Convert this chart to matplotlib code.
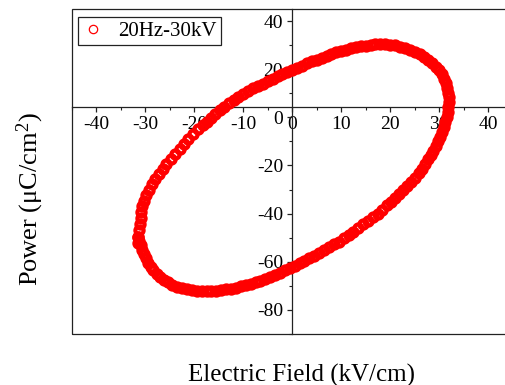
import matplotlib
matplotlib.use("Agg")
import matplotlib.pyplot as plt
from matplotlib.lines import Line2D
from matplotlib.patches import Rectangle
from matplotlib.ticker import MultipleLocator

plt.rcParams['font.family'] = ['Liberation Serif', 'DejaVu Serif']
plt.rcParams['mathtext.fontset'] = 'custom'
plt.rcParams['mathtext.rm'] = 'Liberation Serif'
plt.rcParams['mathtext.it'] = 'Liberation Serif:italic'
plt.rcParams['axes.unicode_minus'] = False

# P-E hysteresis loop, 20 Hz at 30 kV (field in kV/cm, polarization in uC/cm^2)
field = [
    -31.6, -31.5, -31.4, -31.2, -31.0, -30.9, -30.6, -30.2, -29.8, -29.3,
    -28.7, -28.0, -27.3, -26.5, -25.7, -24.8, -23.9, -23.0, -22.1, -21.2,
    -20.2, -19.2, -18.3, -17.5, -16.6, -15.7, -14.8, -13.9, -13.0, -12.0,
    -11.0, -10.0, -9.0, -8.0, -7.0, -6.0, -5.0, -4.0, -3.0, -2.0,
    -1.0, 0.0, 1.0, 2.0, 3.0, 4.0, 5.0, 6.0, 7.0, 8.0,
    9.0, 10.0, 11.0, 12.0, 13.0, 14.0, 15.0, 16.0, 17.0, 18.0,
    19.0, 20.0, 21.0, 22.0, 23.0, 24.0, 25.0, 26.0, 27.0, 27.8,
    28.6, 29.3, 29.9, 30.5, 31.0, 31.4, 31.7, 31.9, 32.0, 32.0,
    31.9, 31.8, 31.6, 31.3, 31.0, 30.6, 30.2, 29.8, 29.3, 28.8,
    28.3, 27.8, 27.2, 26.5, 25.8, 25.0, 24.2, 23.4, 22.6, 21.8,
    21.0, 20.1, 19.3, 18.4, 17.5, 16.5, 15.5, 14.5, 13.5, 12.5,
    11.5, 10.5, 9.5, 8.5, 7.5, 6.5, 5.5, 4.5, 3.5, 2.5,
    1.5, 0.5, -0.5, -1.5, -2.5, -3.5, -4.5, -5.5, -6.5, -7.5,
    -8.5, -9.5, -10.5, -11.5, -12.5, -13.5, -14.5, -15.5, -16.5, -17.5,
    -18.5, -19.5, -20.5, -21.5, -22.5, -23.5, -24.5, -25.4, -26.2, -27.0,
    -27.7, -28.4, -28.9, -29.4, -29.8, -30.2, -30.6, -31.0, -31.3, -31.5,
]
polarization = [
    -52.0, -49.5, -47.0, -44.5, -42.0, -39.5, -37.0, -34.6, -32.3, -30.0,
    -27.8, -25.6, -23.5, -21.4, -19.4, -17.3, -15.2, -13.1, -11.0, -9.0,
    -7.0, -5.0, -3.3, -1.8, -0.2, 1.4, 3.0, 4.4, 5.8, 7.2,
    8.5, 9.7, 10.9, 12.0, 13.0, 14.0, 15.0, 16.0, 17.0, 17.9,
    18.8, 19.7, 20.6, 21.5, 22.4, 23.2, 24.0, 24.8, 25.6, 26.3,
    27.0, 27.6, 28.1, 28.6, 29.1, 29.5, 29.8, 30.1, 30.3, 30.4,
    30.4, 30.2, 29.9, 29.4, 28.8, 28.1, 27.3, 26.3, 25.2, 24.0,
    22.6, 21.1, 19.5, 17.8, 16.0, 14.2, 12.3, 10.3, 8.3, 6.3,
    4.3, 2.3, 0.0, -2.0, -4.0, -6.0, -8.0, -10.0, -12.0, -14.0,
    -15.8, -17.5, -19.5, -21.4, -23.2, -25.0, -26.7, -28.4, -30.0, -31.7,
    -33.3, -35.0, -36.6, -38.3, -40.0, -41.5, -43.0, -44.5, -46.0, -47.5,
    -49.0, -50.3, -51.6, -52.8, -54.0, -55.2, -56.4, -57.5, -58.6, -59.6,
    -60.6, -61.6, -62.6, -63.6, -64.6, -65.5, -66.3, -67.1, -67.8, -68.5,
    -69.1, -69.7, -70.2, -70.7, -71.1, -71.5, -71.8, -72.0, -72.2, -72.3,
    -72.3, -72.1, -71.8, -71.4, -70.9, -70.3, -69.5, -68.6, -67.6, -66.4,
    -65.1, -63.6, -62.0, -60.3, -58.6, -56.8, -55.0, -53.2, -51.4, -49.5,
]
series_label = '20Hz-30kV'
x_ticks = [-40, -30, -20, -10, 0, 10, 20, 30, 40]
y_ticks = [-80, -60, -40, -20, 0, 20, 40]

RED = '#ff0000'
INK = '#222222'

fig = plt.figure(figsize=(5.06, 3.85), dpi=100)
W, H = 506, 385
ax = fig.add_axes([72 / W, (H - 334) / H, 440.5 / W, 325 / H])
ax.set_xlim(-45, 45)
ax.set_ylim(-90, 45)

ax.plot(field, polarization, 'o', mfc='none', mec=RED, ms=5.9, mew=3.0,
        zorder=3)

# crossing axes through the plot, plus an outer frame
for side in ('top', 'right'):
    ax.spines[side].set_visible(False)
ax.spines['left'].set_position(('data', 0))
ax.spines['bottom'].set_position(('data', 4.4))
for side in ('left', 'bottom'):
    ax.spines[side].set_linewidth(0.9)
    ax.spines[side].set_color(INK)
ax.add_patch(Rectangle((0, 0), 1, 1, transform=ax.transAxes, fill=False,
                       lw=0.9, ec=INK, clip_on=False, zorder=2.5))

ax.set_xticks(x_ticks)
ax.set_yticks(y_ticks)
ax.xaxis.set_minor_locator(MultipleLocator(5))
ax.yaxis.set_minor_locator(MultipleLocator(10))
ax.tick_params(which='major', direction='out', length=3.5, width=0.9,
               color=INK, labelsize=14, pad=3)
ax.tick_params(which='minor', direction='out', length=2, width=0.8,
               color=INK)

handle = Line2D([], [], ls='none', marker='o', mfc='none', mec=RED,
                ms=6, mew=0.9)
leg = ax.legend([handle], [series_label], loc='upper left',
                bbox_to_anchor=(0.0136, 0.9745), fontsize=15, frameon=True,
                fancybox=False, edgecolor=INK, framealpha=1, borderpad=0.2,
                borderaxespad=0, handlelength=1.0, handletextpad=0.75)
leg.get_frame().set_linewidth(0.9)

fig.text(302 / W, 1 - 375 / H, 'Electric Field (kV/cm)', fontsize=18,
         ha='center', va='center')
fig.text(30 / W, 1 - 199 / H, 'Power (μC/cm$^{2}$)', fontsize=19,
         ha='center', va='center', rotation=90)

fig.savefig('out.png', dpi=100)
